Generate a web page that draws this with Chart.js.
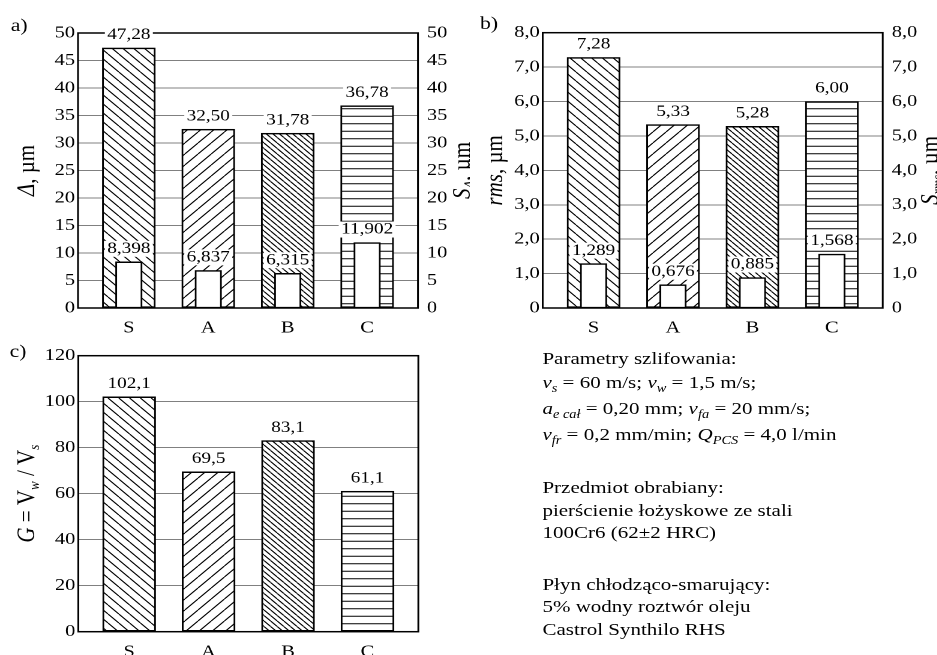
<!DOCTYPE html>
<html>
<head>
<meta charset="utf-8">
<script src="https://cdn.jsdelivr.net/npm/chart.js@4/dist/chart.umd.min.js"></script>
<style>
  html, body { margin: 0; padding: 0; background: #fff; overflow: hidden; }
  /* the figure is drawn in a narrower box and stretched sideways, like the scan */
  #page {
    position: absolute; left: 0; top: 0; width: 795px; height: 655px;
    transform: scaleX(1.2); transform-origin: 0 0;
    font-family: "Liberation Serif", "Times New Roman", serif; color: #000;
  }
  #page canvas { position: absolute; }
  #notes { position: absolute; left: 452px; top: 0; font-size: 17.5px; line-height: 20px; }
  #notes div { position: absolute; left: 0; white-space: nowrap; }
  #notes sub { font-size: 12px; vertical-align: baseline; position: relative; top: 4px; }
</style>
</head>
<body>
<div id="page">
  <canvas id="chartA" width="392" height="340" style="left:0;top:0"></canvas>
  <canvas id="chartB" width="405" height="340" style="left:390px;top:0"></canvas>
  <canvas id="chartC" width="392" height="320" style="left:0;top:335px"></canvas>
  <div id="notes">
    <div style="top:348px">Parametry szlifowania:</div>
    <div style="top:372px"><i>v<sub>s</sub></i> = 60 m/s; <i>v<sub>w</sub></i> = 1,5 m/s;</div>
    <div style="top:398px"><i>a<sub>e cał</sub></i> = 0,20 mm; <i>v<sub>fa</sub></i> = 20 mm/s;</div>
    <div style="top:424px"><i>v<sub>fr</sub></i> = 0,2 mm/min; <i>Q<sub>PCS</sub></i> = 4,0 l/min</div>
    <div style="top:477px">Przedmiot obrabiany:</div>
    <div style="top:500px">pierścienie łożyskowe ze stali</div>
    <div style="top:522px">100Cr6 (62±2 HRC)</div>
    <div style="top:574px">Płyn chłodząco-smarujący:</div>
    <div style="top:596px">5% wodny roztwór oleju</div>
    <div style="top:619px">Castrol Synthilo RHS</div>
  </div>
</div>

<script>
// ── data ──────────────────────────────────────────────
const cats = ['S', 'A', 'B', 'C'];

// a) wymiar Δ i rozrzut S_Δ
const deltaVals = [47.28, 32.50, 31.78, 36.78];
const deltaSd   = [8.398, 6.837, 6.315, 11.902];

// b) rms i S_rms
const rmsVals = [7.28, 5.33, 5.28, 6.00];
const rmsSd   = [1.289, 0.676, 0.885, 1.568];

// c) wskaźnik G
const gVals = [102.1, 69.5, 83.1, 61.1];

const FONT = '"Liberation Serif", "Times New Roman", serif';

// ── hatch patterns (one per wheel) ────────────────────
function hatch(kind, step) {
  const n = Math.round(step * 2);
  const c = document.createElement('canvas');
  c.width = n; c.height = n;
  const g = c.getContext('2d');
  g.fillStyle = '#fff';
  g.fillRect(0, 0, n, n);
  g.strokeStyle = '#000';
  g.lineWidth = 2;
  g.beginPath();
  if (kind === 'h') {
    g.moveTo(0, n / 2); g.lineTo(n, n / 2);
  } else {
    for (let k = -1; k <= 1; k++) {
      if (kind === '\\') { g.moveTo(k * n, 0); g.lineTo(k * n + n, n); }
      else { g.moveTo(k * n, n); g.lineTo(k * n + n, 0); }
    }
  }
  g.stroke();
  const p = g.createPattern(c, 'repeat');
  p.setTransform(new DOMMatrix().scale(0.5));
  return p;
}
const fills = [hatch('\\', 9), hatch('/', 11), hatch('\\', 5.5), hatch('h', 7.5)];

const fmt = (v, d) => v.toFixed(d).replace('.', ',');
const pts = vals => vals.map((v, i) => ({ x: i, y: v }));

// ── frame, value labels, axis titles, panel letter ───
function drawRuns(ctx, runs, cx, cy, size) {
  const fontOf = r => `${r.i ? 'italic ' : ''}${r.sub ? Math.round(size * 0.62) : size}px ${FONT}`;
  ctx.save();
  ctx.translate(cx, cy);
  ctx.rotate(-Math.PI / 2);
  let total = 0;
  runs.forEach(r => { ctx.font = fontOf(r); total += ctx.measureText(r.t).width; });
  let x = -total / 2;
  ctx.fillStyle = '#000';
  ctx.textBaseline = 'alphabetic';
  ctx.textAlign = 'left';
  runs.forEach(r => {
    ctx.font = fontOf(r);
    ctx.fillText(r.t, x, r.sub ? 10 : 6);
    x += ctx.measureText(r.t).width;
  });
  ctx.restore();
}

const decor = {
  id: 'decor',
  afterDatasetsDraw(chart, args, opts) {
    const { ctx, chartArea: a } = chart;
    ctx.save();
    ctx.strokeStyle = '#000';
    ctx.lineWidth = 1.5;
    ctx.strokeRect(a.left, a.top, a.right - a.left, a.bottom - a.top);

    ctx.font = `16px ${FONT}`;
    ctx.textAlign = 'center';
    ctx.textBaseline = 'middle';
    chart.data.datasets.forEach((ds, di) => {
      chart.getDatasetMeta(di).data.forEach((bar, i) => {
        const txt = fmt(ds.data[i].y, ds.digits);
        const w = ctx.measureText(txt).width;
        const y = bar.y - 13;
        ctx.fillStyle = '#fff';
        ctx.fillRect(bar.x - w / 2 - 2, y - 8, w + 4, 16);
        ctx.fillStyle = '#000';
        ctx.fillText(txt, bar.x, y);
      });
    });
    ctx.restore();
  },
  afterDraw(chart, args, opts) {
    const { ctx, chartArea: a } = chart;
    const cy = (a.top + a.bottom) / 2;
    if (opts.left) drawRuns(ctx, opts.left, 22.5, cy, 21);
    if (opts.right) drawRuns(ctx, opts.right, opts.rightX, cy, 21);
    ctx.save();
    ctx.font = `18px ${FONT}`;
    ctx.fillStyle = '#000';
    ctx.textAlign = 'left';
    ctx.textBaseline = 'alphabetic';
    ctx.fillText(opts.panel, opts.panelX, opts.panelY);
    ctx.restore();
  }
};

// ── helpers ───────────────────────────────────────────
function yAxis(pos, max, step, cb, width) {
  return {
    position: pos, min: 0, max,
    ticks: {
      stepSize: step, color: '#000', padding: pos === 'left' ? 2.5 : 7.5,
      font: { family: FONT, size: 17 }, callback: cb
    },
    grid: { display: pos === 'left', color: '#808080', lineWidth: 1, drawTicks: false },
    border: { display: false },
    afterFit: s => { s.width = width; }
  };
}

function xAxis(height) {
  return {
    type: 'linear', min: -0.64, max: 3.64, offset: false,
    afterBuildTicks: s => { s.ticks = cats.map((c, i) => ({ value: i })); },
    ticks: {
      color: '#000', padding: 10, autoSkip: false, maxRotation: 0,
      font: { family: FONT, size: 17 }, callback: v => cats[v]
    },
    grid: { display: false, drawTicks: false, offset: false },
    border: { display: false },
    afterFit: s => { s.height = height; }
  };
}

function bigBars(vals, digits) {
  return {
    data: pts(vals), digits, order: 2, yAxisID: 'y',
    backgroundColor: fills, borderColor: '#000', borderWidth: 1.5,
    borderSkipped: false, barThickness: 44, grouped: false
  };
}

function smallBars(vals, digits) {
  return {
    data: pts(vals), digits, order: 1, yAxisID: 'y2',
    backgroundColor: '#fff', borderColor: '#000', borderWidth: 1.5,
    borderSkipped: false, barThickness: 22, grouped: false
  };
}

const base = {
  responsive: false, animation: false, devicePixelRatio: 2, events: [],
  plugins: { legend: { display: false }, tooltip: { enabled: false } }
};

const intTick = v => String(v);
const decTick = v => (v === 0 ? '0' : fmt(v, 1));

// ── a) ────────────────────────────────────────────────
new Chart(document.getElementById('chartA'), {
  type: 'bar',
  data: { datasets: [bigBars(deltaVals, 2), smallBars(deltaSd, 3)] },
  options: {
    ...base,
    layout: { padding: { top: 33 } },
    scales: {
      x: xAxis(32),
      y: yAxis('left', 50, 5, intTick, 65),
      y2: yAxis('right', 50, 5, intTick, 43.7)
    },
    plugins: {
      ...base.plugins,
      decor: {
        panel: 'a)', panelX: 9, panelY: 31, rightX: 385.5,
        left: [{ t: 'Δ', i: 1 }, { t: ', µm' }],
        right: [{ t: 'S', i: 1 }, { t: 'Δ', i: 1, sub: 1 }, { t: ', µm' }]
      }
    }
  },
  plugins: [decor]
});

// ── b) ────────────────────────────────────────────────
new Chart(document.getElementById('chartB'), {
  type: 'bar',
  data: { datasets: [bigBars(rmsVals, 2), smallBars(rmsSd, 3)] },
  options: {
    ...base,
    layout: { padding: { top: 32.7 } },
    scales: {
      x: xAxis(32),
      y: yAxis('left', 8, 1, decTick, 62.25),
      y2: yAxis('right', 8, 1, decTick, 59.4)
    },
    plugins: {
      ...base.plugins,
      decor: {
        panel: 'b)', panelX: 10, panelY: 29, rightX: 385.5,
        left: [{ t: 'rms', i: 1 }, { t: ', µm' }],
        right: [{ t: 'S', i: 1 }, { t: 'rms', i: 1, sub: 1 }, { t: ', µm' }]
      }
    }
  },
  plugins: [decor]
});

// ── c) ────────────────────────────────────────────────
new Chart(document.getElementById('chartC'), {
  type: 'bar',
  data: { datasets: [bigBars(gVals, 1)] },
  options: {
    ...base,
    layout: { padding: { top: 20.7, right: 43.4 } },
    scales: {
      x: xAxis(23.3),
      y: yAxis('left', 120, 20, intTick, 65.25)
    },
    plugins: {
      ...base.plugins,
      decor: {
        panel: 'c)', panelX: 8, panelY: 22,
        left: [{ t: 'G', i: 1 }, { t: ' = V' }, { t: 'w', i: 1, sub: 1 }, { t: ' / V' }, { t: 's', i: 1, sub: 1 }]
      }
    }
  },
  plugins: [decor]
});
</script>
</body>
</html>
